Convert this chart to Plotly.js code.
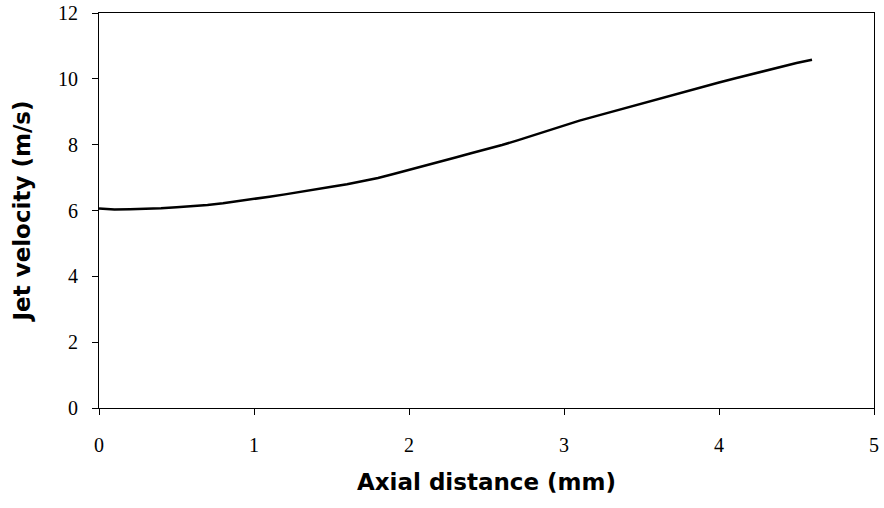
<!DOCTYPE html>
<html>
<head>
<meta charset="utf-8">
<script src="https://cdn.plot.ly/plotly-3.0.1.min.js"></script>
<style>html,body{margin:0;padding:0;background:#fff;}#chart{width:884px;height:508px;}</style>
</head>
<body>
<div id="chart"></div>
<script>
const axialDistance = [0,0.1,0.2,0.3,0.4,0.5,0.6,0.7,0.8,0.9,1.0,1.1,1.2,1.3,1.4,1.5,1.6,1.7,1.8,1.9,2.0,2.1,2.2,2.3,2.4,2.5,2.6,2.7,2.8,2.9,3.0,3.1,3.2,3.3,3.4,3.5,3.6,3.7,3.8,3.9,4.0,4.1,4.2,4.3,4.4,4.5,4.6];
const jetVelocity = [6.06,6.03,6.04,6.05,6.07,6.10,6.13,6.17,6.22,6.28,6.35,6.42,6.49,6.56,6.64,6.72,6.80,6.89,6.99,7.11,7.23,7.36,7.49,7.61,7.74,7.86,7.99,8.13,8.28,8.44,8.59,8.73,8.86,8.99,9.12,9.26,9.39,9.52,9.64,9.77,9.89,10.01,10.13,10.25,10.37,10.48,10.58];
const xTicks = [0,1,2,3,4,5];
const yTicks = [0,2,4,6,8,10,12];

const tickFont = {family: 'Liberation Serif, Times New Roman, serif', size: 20, color: '#000'};
const titleFont = {family: 'DejaVu Sans, Liberation Sans, sans-serif', size: 23, color: '#000', weight: 'bold'};

const trace = {
  x: axialDistance, y: jetVelocity, type: 'scatter', mode: 'lines',
  line: {color: '#000', width: 2.5}, showlegend: false, hoverinfo: 'none'
};
const layout = {
  width: 884, height: 508,
  margin: {l: 99, r: 10, t: 13, b: 100},
  paper_bgcolor: '#fff', plot_bgcolor: '#fff',
  font: tickFont,
  xaxis: {
    range: [0, 5], tickvals: xTicks, ticktext: xTicks.map(String), tickfont: tickFont,
    showgrid: false, zeroline: false, showline: true, linecolor: '#000', linewidth: 1, mirror: true,
    ticks: 'outside', ticklen: 6, tickwidth: 1, tickcolor: '#000', ticklabelstandoff: 13,
    title: {text: 'Axial distance (mm)', font: titleFont, standoff: 18}
  },
  yaxis: {
    range: [0, 12], tickvals: yTicks, ticktext: yTicks.map(String), tickfont: tickFont,
    showgrid: false, zeroline: false, showline: true, linecolor: '#000', linewidth: 1, mirror: true,
    ticks: 'outside', ticklen: 6, tickwidth: 1, tickcolor: '#000', ticklabelstandoff: 10,
    title: {text: 'Jet velocity (m/s)', font: titleFont, standoff: 20}
  }
};
Plotly.newPlot('chart', [trace], layout, {staticPlot: true, displayModeBar: false});
</script>
</body>
</html>
